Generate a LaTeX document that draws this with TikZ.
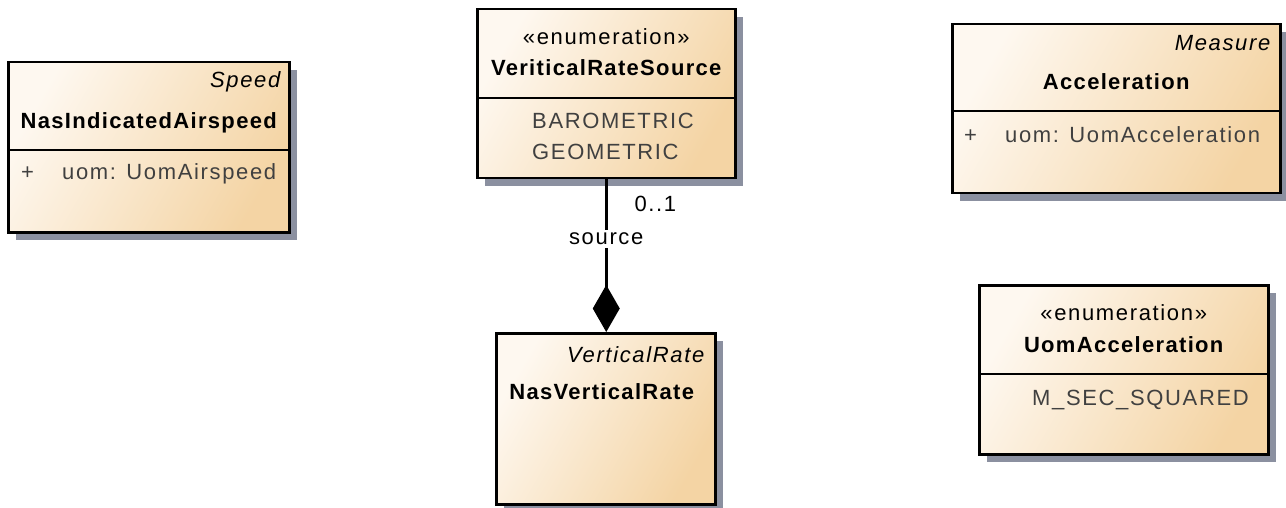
\documentclass[tikz,border=0pt]{standalone}
\usepackage{fontspec}
\setmainfont{Liberation Sans}[LetterSpace=7.5]
\newfontfamily\boldtitle{Liberation Sans Bold}[LetterSpace=6]
\newfontfamily\stereofont{Liberation Sans}[LetterSpace=7.5]
\usepackage{tikz}
\usetikzlibrary{shadows, arrows.meta, positioning}
\definecolor{classlight}{RGB}{254,248,240}
\definecolor{classdark}{RGB}{244,212,164}
\definecolor{shadowgray}{RGB}{139,144,160}
\definecolor{attrgray}{RGB}{64,64,64}
\tikzstyle{classbox}=[draw, line width=2.5pt, rectangle, anchor=north west, inner sep=0pt, left color=classlight, right color=classdark, shading angle=60, drop shadow={shadow xshift=8pt, shadow yshift=-8pt, fill=shadowgray, opacity=1}]
\tikzstyle{title}=[inner sep=0pt, anchor=base, font=\fontsize{22}{26}\boldtitle]
\tikzstyle{stereo}=[inner sep=0pt, anchor=base, font=\fontsize{22}{26}\stereofont]
\tikzstyle{parent}=[inner sep=0pt, anchor=base east, font=\fontsize{22}{26}\selectfont\itshape]
\tikzstyle{attr}=[inner sep=0pt, anchor=base west, text=attrgray, font=\fontsize{22}{26}\selectfont]
\tikzstyle{divider}=[line width=2.5pt]
\tikzstyle{composition}=[line width=2.5pt, {Diamond[length=47pt, width=27pt]}-]

\begin{document}
\begin{tikzpicture}[x=1pt, y=-1pt]
		\useasboundingbox (0,0) rectangle (1286,508);
		\node[classbox, minimum width=281pt, minimum height=170pt] (NIA) at (7,61) {};
		\node[classbox, minimum width=258pt, minimum height=169pt] (VRS) at (476,8) {};
		\node[classbox, minimum width=219pt, minimum height=171pt] (NVR) at (495,332) {};
		\node[classbox, minimum width=328pt, minimum height=169pt] (Acc) at (951,23) {};
		\node[classbox, minimum width=289pt, minimum height=169pt] (UAcc) at (978,284) {};
		%---------------------
		\node[parent] at ([xshift=-10pt, yshift=-27pt]NIA.north east) {Speed};
		\node[title] at ([yshift=-68pt]NIA.north) {NasIndicatedAirspeed};
		\draw[divider] ([yshift=-89pt]NIA.north west) -- ([yshift=-89pt]NIA.north east);
		\node[attr] at ([xshift=14pt, yshift=-119pt]NIA.north west) {+};
		\node[attr] at ([xshift=55pt, yshift=-119pt]NIA.north west) {uom: UomAirspeed};
		%---------------------
		\node[stereo] at ([yshift=-37pt]VRS.north) {«enumeration»};
		\node[title] at ([yshift=-68pt]VRS.north) {VeriticalRateSource};
		\draw[divider] ([yshift=-90pt]VRS.north west) -- ([yshift=-90pt]VRS.north east);
		\node[attr] at ([xshift=56pt, yshift=-121pt]VRS.north west) {BAROMETRIC};
		\node[attr] at ([xshift=56pt, yshift=-152pt]VRS.north west) {GEOMETRIC};
		%---------------------
		\node[parent] at ([xshift=-12pt, yshift=-30pt]NVR.north east) {VerticalRate};
		\node[title] at ([xshift=-4pt, yshift=-67pt]NVR.north) {NasVerticalRate};
		%---------------------
		\node[parent] at ([xshift=-11pt, yshift=-28pt]Acc.north east) {Measure};
		\node[title] at ([yshift=-67pt]Acc.north) {Acceleration};
		\draw[divider] ([yshift=-88pt]Acc.north west) -- ([yshift=-88pt]Acc.north east);
		\node[attr] at ([xshift=13pt, yshift=-120pt]Acc.north west) {+};
		\node[attr] at ([xshift=54pt, yshift=-120pt]Acc.north west) {uom: UomAcceleration};
		%---------------------
		\node[stereo] at ([yshift=-36pt]UAcc.north) {«enumeration»};
		\node[title] at ([yshift=-68pt]UAcc.north) {UomAcceleration};
		\draw[divider] ([yshift=-90pt]UAcc.north west) -- ([yshift=-90pt]UAcc.north east);
		\node[attr] at ([xshift=54pt, yshift=-121pt]UAcc.north west) {M\_SEC\_SQUARED};
		%---------------------
		\draw[composition] (NVR.north -| VRS.south) -- node[pos=0.574, anchor=base, fill=white, inner sep=3pt, font=\fontsize{22}{26}\selectfont]{source} node[pos=0.787, anchor=base west, xshift=27pt, inner sep=0pt, font=\fontsize{22}{26}\selectfont]{0..1} (VRS.south);
\end{tikzpicture}
\end{document}
